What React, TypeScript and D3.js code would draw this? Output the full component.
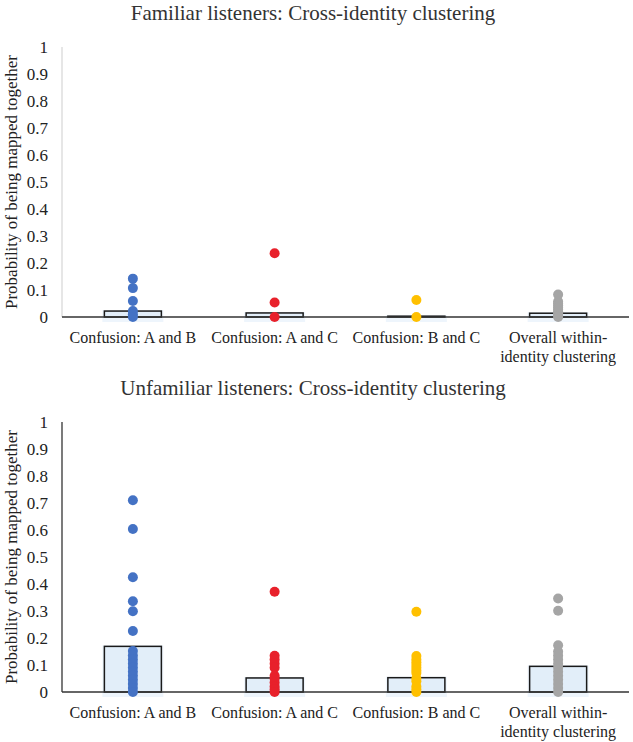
import React from "react";
import * as d3 from "d3";

const categories = ["Confusion: A and B", "Confusion: A and C", "Confusion: B and C", "Overall within-identity clustering"];
const categoryLines = [["Confusion: A and B"], ["Confusion: A and C"], ["Confusion: B and C"], ["Overall within-", "identity clustering"]];
const dotColors = ["#4472C4", "#E8212B", "#FFC000", "#A5A5A5"];
const yTicks = [0, 0.1, 0.2, 0.3, 0.4, 0.5, 0.6, 0.7, 0.8, 0.9, 1];
const yTickLabels = ["0", "0.1", "0.2", "0.3", "0.4", "0.5", "0.6", "0.7", "0.8", "0.9", "1"];

const familiarMeans = [0.022, 0.015, 0.003, 0.014];
const familiarAB = [0.142, 0.107, 0.059, 0.022, 0.01, 0];
const familiarAC = [0.236, 0.054, 0];
const familiarBC = [0.063, 0];
const familiarOverall = [0.083, 0.057, 0.05, 0.043, 0.035, 0.028, 0.02, 0.012, 0.005, 0];

const unfamiliarMeans = [0.169, 0.052, 0.053, 0.095];
const unfamiliarAB = [0.71, 0.604, 0.425, 0.336, 0.299, 0.226, 0.152, 0.135, 0.12, 0.105, 0.09, 0.075, 0.06, 0.045, 0.03, 0.015, 0];
const unfamiliarAC = [0.371, 0.134, 0.12, 0.105, 0.09, 0.06, 0.05, 0.035, 0.02, 0.01, 0];
const unfamiliarBC = [0.297, 0.133, 0.12, 0.11, 0.1, 0.09, 0.08, 0.07, 0.05, 0.04, 0.02, 0.01, 0];
const unfamiliarOverall = [0.346, 0.301, 0.173, 0.15, 0.135, 0.12, 0.105, 0.09, 0.075, 0.06, 0.045, 0.03, 0.015, 0];

const familiarTitle = "Familiar listeners: Cross-identity clustering";
const unfamiliarTitle = "Unfamiliar listeners: Cross-identity clustering";
const yAxisTitle = "Probability of being mapped together";

const FONT = "Liberation Serif, Times New Roman, serif";

function Panel({ top, title, means, points, yAxisColor }) {
  const left = 62;
  const right = 629;
  const y0 = top + 270;
  const x = d3.scaleBand().domain(categories).range([left, right]);
  const y = d3.scaleLinear().domain([0, 1]).range([y0, top]);
  const barW = 57;
  return (
    <g>
      <text x={313} y={top - 27} textAnchor="middle" fontSize={21} fill="#333" style={{ fontFamily: FONT }}>{title}</text>
      <text transform={`translate(17,${(top + y0) / 2}) rotate(-90)`} textAnchor="middle" fontSize={17} fill="#222" style={{ fontFamily: FONT }}>{yAxisTitle}</text>
      {yTicks.map((t, i) => (
        <text key={i} x={48} y={y(t)} dy="0.35em" textAnchor="end" fontSize={17} fill="#222" style={{ fontFamily: FONT }}>{yTickLabels[i]}</text>
      ))}
      <line x1={left} x2={left} y1={top} y2={y0} stroke={yAxisColor} strokeWidth={1.3} />
      {categories.map((c, i) => {
        const cx = x(c) + x.bandwidth() / 2;
        return (
          <g key={c}>
            <rect x={cx - barW / 2 - 2} y={y(means[i]) - 1} width={barW + 4} height={y0 - y(means[i]) + 6} fill="#EEF5FC" />
            <rect x={cx - barW / 2} y={y(means[i])} width={barW} height={y0 - y(means[i])} fill="#E2EEF9" stroke="#1a1a1a" strokeWidth={1.5} />
          </g>
        );
      })}
      <line x1={left} x2={right} y1={y0} y2={y0} stroke="#333" strokeWidth={1.3} />
      {categories.map((c, i) => {
        const cx = x(c) + x.bandwidth() / 2;
        return points[i].map((v, j) => (
          <circle key={c + j} cx={cx} cy={y(v)} r={5} fill={dotColors[i]} />
        ));
      })}
      {categories.map((c, i) => {
        const cx = x(c) + x.bandwidth() / 2;
        return categoryLines[i].map((ln, k) => (
          <text key={c + k} x={cx} y={y0 + 26 + k * 19} textAnchor="middle" fontSize={16} fill="#222" style={{ fontFamily: FONT }}>{ln}</text>
        ));
      })}
    </g>
  );
}

export default function App() {
  return (
    <svg width={633} height={742} style={{ position: "absolute", left: 0, top: 0, background: "#fff" }}>
      <rect x={0} y={0} width={633} height={742} fill="#fff" />
      <Panel top={47} title={familiarTitle} means={familiarMeans} points={[familiarAB, familiarAC, familiarBC, familiarOverall]} yAxisColor="#D9D9D9" />
      <Panel top={422} title={unfamiliarTitle} means={unfamiliarMeans} points={[unfamiliarAB, unfamiliarAC, unfamiliarBC, unfamiliarOverall]} yAxisColor="#333" />
    </svg>
  );
}
